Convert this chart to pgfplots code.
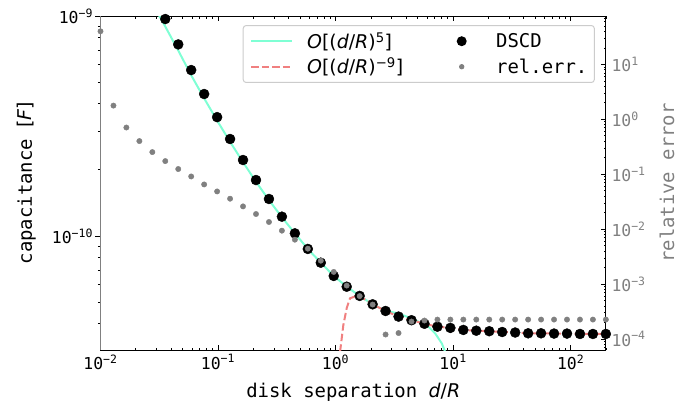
\documentclass[border=0pt]{standalone}
\usepackage{pgfplots}
\pgfplotsset{compat=1.18}
\usepackage{fontspec}
\setmainfont{DejaVu Sans Mono}
\newfontfamily\dvs{DejaVu Sans}
\newcommand\mi[1]{{\dvs\itshape #1}}
\newcommand\SP[1]{\textsuperscript{#1}}
\definecolor{aqua}{HTML}{7FFFD4}
\definecolor{lcoral}{HTML}{F08080}
\definecolor{mgray}{HTML}{808080}
\pgfplotstableread{
d C
0.03558 9.69e-10
0.04587 7.43e-10
0.05912 5.68e-10
0.07622 4.42e-10
0.09824 3.47e-10
0.12664 2.76e-10
0.16325 2.215e-10
0.21040 1.796e-10
0.27125 1.473e-10
0.34963 1.224e-10
0.45072 1.028e-10
0.58098 8.73e-11
0.74887 7.56e-11
0.96515 6.58e-11
1.2442 5.88e-11
1.6036 5.34e-11
2.0673 4.89e-11
2.6645 4.56e-11
3.4356 4.30e-11
4.4287 4.14e-11
5.7078 3.99e-11
7.3573 3.87e-11
9.4824 3.82e-11
12.224 3.74e-11
15.756 3.71e-11
20.310 3.69e-11
26.178 3.66e-11
33.746 3.64e-11
43.502 3.61e-11
56.068 3.61e-11
72.277 3.60e-11
93.157 3.60e-11
120.09 3.585e-11
154.77 3.585e-11
199.53 3.585e-11
}\dscd
\pgfplotstableread{
d C
0.02761 1.14e-9
0.03558 8.96e-10
0.04587 6.97e-10
0.05912 5.38e-10
0.07622 4.225e-10
0.09824 3.347e-10
0.12664 2.68e-10
0.16325 2.164e-10
0.21040 1.765e-10
0.27125 1.455e-10
0.34963 1.217e-10
0.45072 1.028e-10
0.58098 8.73e-11
0.74887 7.56e-11
0.96515 6.58e-11
1.2442 5.88e-11
1.6036 5.34e-11
2.0673 4.89e-11
2.6645 4.56e-11
3.424 4.45e-11
4.75 4.15e-11
6.165 3.87e-11
7.03 3.61e-11
8.01 3.25e-11
8.55 2.98e-11
8.89 2.59e-11
}\small
\pgfplotstableread{
d C
1.0605 6.3e-12
1.071 2.215e-11
1.092 2.97e-11
1.165 3.94e-11
1.2454 4.71e-11
1.3284 5.21e-11
1.4655 5.31e-11
1.6036 5.33e-11
2.0673 4.89e-11
2.6645 4.56e-11
3.4356 4.30e-11
4.4287 4.14e-11
5.7078 3.99e-11
7.3573 3.87e-11
9.4824 3.82e-11
12.224 3.74e-11
15.756 3.71e-11
20.310 3.69e-11
26.178 3.66e-11
33.746 3.64e-11
43.502 3.61e-11
56.068 3.61e-11
72.277 3.60e-11
93.157 3.60e-11
120.09 3.585e-11
154.77 3.585e-11
199.53 3.585e-11
}\large
\pgfplotstableread{
d r
0.01 40.1
0.01289 1.78
0.01661 0.710
0.02142 0.402
0.02761 0.2535
0.03558 0.1738
0.04587 0.1245
0.05912 0.0912
0.07622 0.0653
0.09824 0.0487
0.12664 0.0359
0.16325 0.0260
0.21040 0.01889
0.27125 0.01352
0.34963 0.0094
0.45072 0.00644
0.58098 0.00442
0.74887 0.00267
0.96515 0.001667
1.2442 0.00094
1.6036 0.000605
2.0673 0.000424
2.6645 0.0001208
3.4356 0.0001285
4.4287 0.000208
5.7078 0.000217
7.3573 0.000226
9.4824 0.000226
12.224 0.000226
15.756 0.000226
20.310 0.000226
26.178 0.000226
33.746 0.000226
43.502 0.000226
56.068 0.000226
72.277 0.000226
93.157 0.000226
120.09 0.000226
154.77 0.000226
199.53 0.000226
}\relerr
\begin{document}
\begin{tikzpicture}
\useasboundingbox (-100.5bp,-55bp) rectangle (596.5bp,350bp);
\begin{axis}[
  at={(0,0)}, anchor=south west, scale only axis,
  width=505.5bp, height=334bp,
  xmode=log, ymode=log,
  xmin=0.01, xmax=200, ymin=3.03e-11, ymax=1e-9,
  separate axis lines,
  axis line style={line width=1bp},
  x axis line style={black},
  y axis line style={mgray},
  ytick pos=left, xtick pos=both,
  tick align=inside,
  major tick length=5bp, minor tick length=2.5bp,
  every tick/.style={black, line width=0.8bp},
  major y tick style={xshift=-5bp},
  minor y tick style={xshift=-2.5bp},
  xtick={0.01,0.1,1,10,100},
  xticklabels={10\SP{−2},10\SP{−1},10\SP{0},10\SP{1},10\SP{2}},
  minor xtick={0.02,0.03,0.04,0.05,0.06,0.07,0.08,0.09,0.2,0.3,0.4,0.5,0.6,0.7,0.8,0.9,2,3,4,5,6,7,8,9,20,30,40,50,60,70,80,90,200},
  ytick={1e-10,1e-9},
  yticklabels={10\SP{−10},10\SP{−9}},
  minor ytick={4e-11,5e-11,6e-11,7e-11,8e-11,9e-11,2e-10,3e-10,4e-10,5e-10,6e-10,7e-10,8e-10,9e-10},
  tick label style={font=\fontsize{16.5}{18}\selectfont},
  yticklabel style={xshift=-4bp},
  xticklabel style={yshift=-1bp},
  label style={font=\fontsize{19}{22}\selectfont},
  xlabel={disk separation \mi{d}{\dvs/}\mi{R}},
  xlabel style={at={(axis description cs:0.5,-0.1407)}, anchor=base},
  ylabel={capacitance {\dvs[}\mi{F}{\dvs]}},
  ylabel style={at={(axis description cs:-0.146,0.5)}, anchor=center},
]
\addplot[only marks, mark=*, mark size=5bp, black] table[x=d,y=C]{\dscd};
\addplot[aqua, line width=2bp, no marks] table[x=d,y=C]{\small};
\addplot[lcoral, line width=2bp, no marks, dash pattern=on 7.4bp off 3.2bp] table[x=d,y=C]{\large};
\end{axis}
\begin{axis}[
  at={(0,0)}, anchor=south west, scale only axis,
  width=505.5bp, height=334bp,
  xmode=log, ymode=log,
  xmin=0.01, xmax=200, ymin=6.31e-5, ymax=76.2,
  axis x line=none, axis y line*=right,
  axis line style={line width=1bp, black},
  tick align=inside,
  major tick length=5bp, minor tick length=2.5bp,
  every tick/.style={black, line width=0.8bp},
  ytick={1e-4,1e-3,1e-2,1e-1,1,10},
  yticklabels={10\SP{−4},10\SP{−3},10\SP{−2},10\SP{−1},10\SP{0},10\SP{1}},
  minor ytick={7e-5,8e-5,9e-5,2e-4,3e-4,4e-4,5e-4,6e-4,7e-4,8e-4,9e-4,2e-3,3e-3,4e-3,5e-3,6e-3,7e-3,8e-3,9e-3,2e-2,3e-2,4e-2,5e-2,6e-2,7e-2,8e-2,9e-2,0.2,0.3,0.4,0.5,0.6,0.7,0.8,0.9,2,3,4,5,6,7,8,9,20,30,40,50,60,70},
  tick label style={font=\fontsize{16.5}{18}\selectfont, mgray},
  yticklabel style={xshift=2bp},
  ylabel={relative error},
  ylabel style={at={(axis description cs:1.1207,0.5)}, anchor=center, mgray, font=\fontsize{19}{22}\selectfont},
  legend columns=2, legend cell align=left,
  legend style={at={(axis description cs:0.978,0.973)}, anchor=north east,
    draw=black!20, line width=1bp, rounded corners=3bp, fill=white,
    font=\fontsize{19}{22}\selectfont,
    inner xsep=7bp, inner ysep=7bp, row sep=8bp,
    nodes={inner sep=0bp},
    /tikz/column 1/.style={column sep=14bp},
    /tikz/column 2/.style={column sep=38bp},
    /tikz/column 3/.style={column sep=14bp}},
]
\addlegendimage{legend image code/.code={\draw[aqua,line width=2bp] (0bp,0bp) -- (41bp,0bp);}}
\addlegendentry{\mi{O}{\dvs[(}\mi{d}{\dvs/}\mi{R}{\dvs)}\SP{\dvs 5}{\dvs]}}
\addlegendimage{legend image code/.code={\path[draw=none,fill=none] (0bp,0bp) rectangle (41bp,0.1bp); \fill[black,draw=none] (20.5bp,0bp) circle (5bp);}}
\addlegendentry{DSCD}
\addlegendimage{legend image code/.code={\draw[lcoral,line width=2bp,dash pattern=on 7.4bp off 3.2bp] (0bp,0bp) -- (41bp,0bp);}}
\addlegendentry{\mi{O}{\dvs[(}\mi{d}{\dvs/}\mi{R}{\dvs)}\SP{\dvs −9}{\dvs]}}
\addlegendimage{legend image code/.code={\path[draw=none,fill=none] (0bp,0bp) rectangle (41bp,0.1bp); \fill[mgray,draw=none] (20.5bp,0bp) circle (2.7bp);}}
\addlegendentry{rel.err.}
\addplot[only marks, mark=*, mark size=2.7bp, mgray, draw=none, fill=mgray] table[x=d,y=r]{\relerr};
\end{axis}
\end{tikzpicture}
\end{document}
